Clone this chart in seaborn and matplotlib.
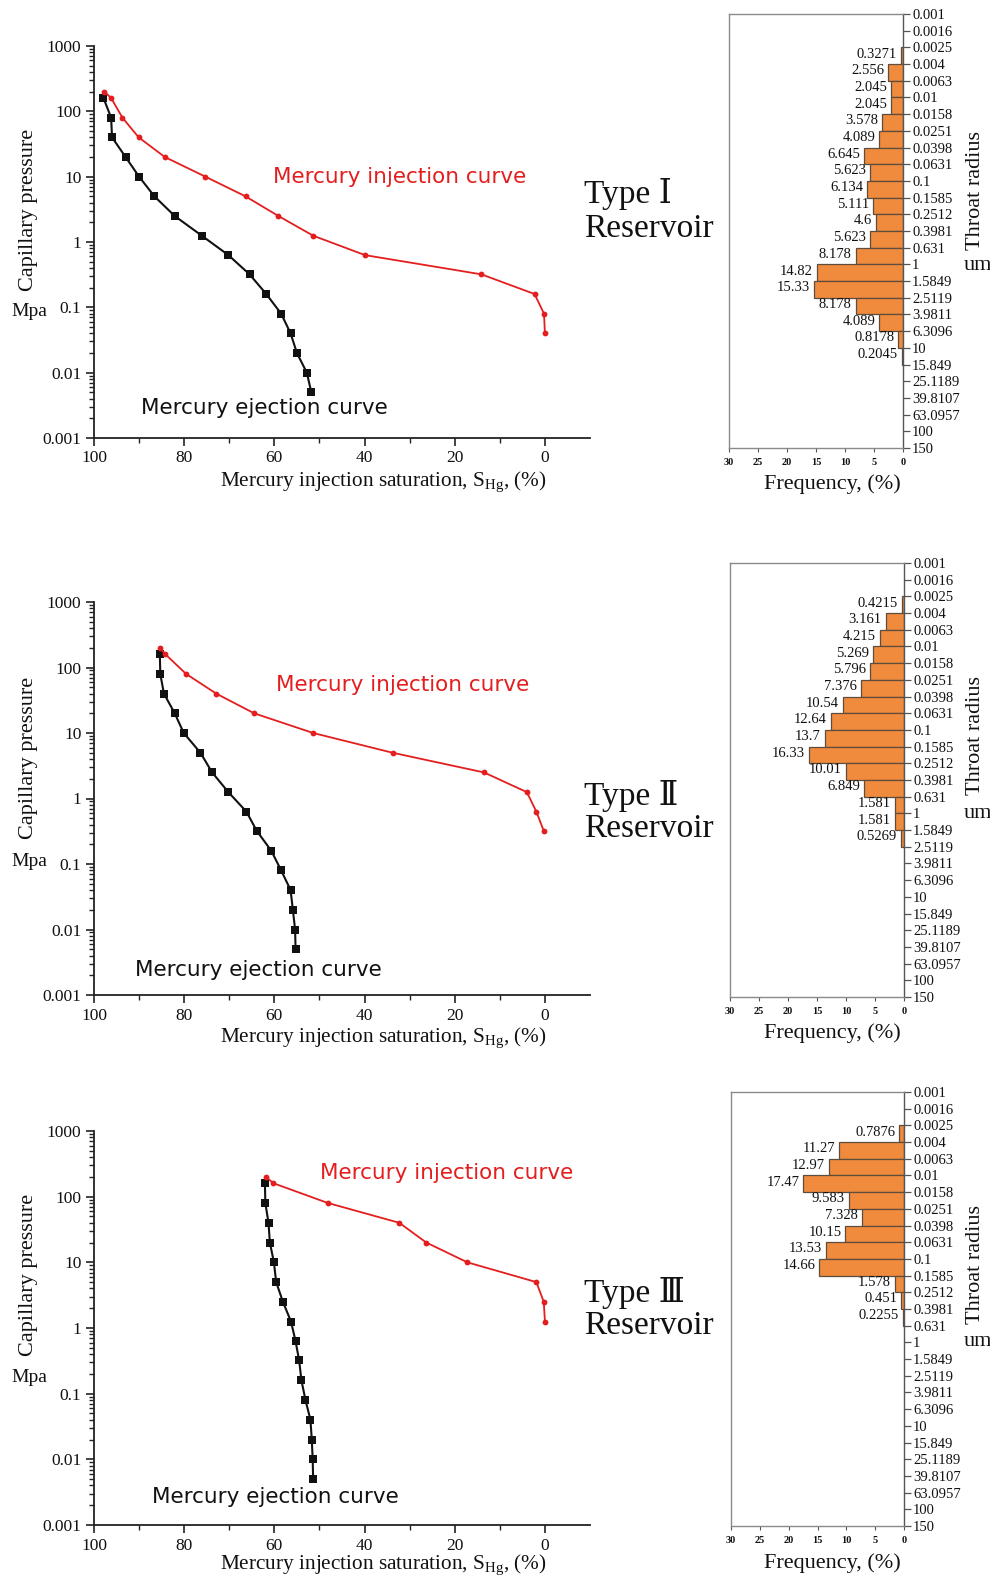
import matplotlib
matplotlib.use("Agg")
import matplotlib.pyplot as plt
import numpy as np
import pandas as pd
import seaborn as sns
from matplotlib.ticker import FixedLocator, FixedFormatter, LogLocator, NullFormatter

sns.set_theme(style="white")
plt.rcParams["font.family"] = ["Liberation Serif", "DejaVu Serif"]
plt.rcParams["mathtext.fontset"] = "custom"
plt.rcParams["mathtext.rm"] = "Liberation Serif"
plt.rcParams["mathtext.it"] = "Liberation Serif:italic"

# ---------------- capillary pressure curves (MPa) ----------------
inj_pressure_1 = [200, 160, 80, 40, 20, 10, 5, 2.5, 1.25, 0.63, 0.32, 0.16, 0.08, 0.04]
inj_saturation_1 = [97.7, 96.2, 93.7, 90.1, 84.3, 75.3, 66.4, 59.1, 51.4, 39.9, 14.1, 2.3, 0.2, 0.0]
ej_pressure_1 = [160, 80, 40, 20, 10, 5, 2.5, 1.25, 0.63, 0.32, 0.16, 0.08, 0.04, 0.02, 0.01, 0.005]
ej_saturation_1 = [97.9, 96.2, 96.0, 93.0, 90.0, 86.6, 82.1, 76.1, 70.2, 65.5, 61.8, 58.5, 56.4, 55.0, 52.8, 51.8]

inj_pressure_2 = [200, 160, 80, 40, 20, 10, 5, 2.5, 1.25, 0.63, 0.32]
inj_saturation_2 = [85.4, 84.2, 79.6, 72.9, 64.5, 51.4, 33.8, 13.5, 4.0, 1.9, 0.25]
ej_pressure_2 = [160, 80, 40, 20, 10, 5, 2.5, 1.25, 0.63, 0.32, 0.16, 0.08, 0.04, 0.02, 0.01, 0.005]
ej_saturation_2 = [85.4, 85.3, 84.5, 82.1, 80.1, 76.4, 73.8, 70.2, 66.2, 63.9, 60.7, 58.5, 56.4, 55.9, 55.4, 55.3]

inj_pressure_3 = [200, 160, 80, 40, 20, 10, 5, 2.5, 1.25]
inj_saturation_3 = [61.9, 60.2, 48.1, 32.3, 26.3, 17.2, 1.9, 0.25, 0.0]
ej_pressure_3 = [160, 80, 40, 20, 10, 5, 2.5, 1.25, 0.63, 0.32, 0.16, 0.08, 0.04, 0.02, 0.01, 0.005]
ej_saturation_3 = [62.1, 62.0, 61.3, 61.0, 60.1, 59.6, 58.1, 56.3, 55.3, 54.5, 54.0, 53.1, 52.0, 51.7, 51.5, 51.4]

# ---------------- throat radius distribution (%) ----------------
radius_bounds = ["0.001", "0.0016", "0.0025", "0.004", "0.0063", "0.01", "0.0158", "0.0251",
                 "0.0398", "0.0631", "0.1", "0.1585", "0.2512", "0.3981", "0.631", "1",
                 "1.5849", "2.5119", "3.9811", "6.3096", "10", "15.849", "25.1189",
                 "39.8107", "63.0957", "100", "150"]
freq_1 = [0.3271, 2.556, 2.045, 2.045, 3.578, 4.089, 6.645, 5.623, 6.134, 5.111, 4.6,
          5.623, 8.178, 14.82, 15.33, 8.178, 4.089, 0.8178, 0.2045]
freq_2 = [0.4215, 3.161, 4.215, 5.269, 5.796, 7.376, 10.54, 12.64, 13.7, 16.33, 10.01,
          6.849, 1.581, 1.581, 0.5269]
freq_3 = [0.7876, 11.27, 12.97, 17.47, 9.583, 7.328, 10.15, 13.53, 14.66, 1.578, 0.451, 0.2255]
freq_first_bin = 2          # every distribution starts at the 0.0025 um bound
freq_ticks = [30, 25, 20, 15, 10, 5, 0]

pressure_ticks = [0.001, 0.01, 0.1, 1, 10, 100, 1000]
pressure_labels = ["0.001", "0.01", "0.1", "1", "10", "100", "1000"]
saturation_ticks = [100, 80, 60, 40, 20, 0]
type_names = ["Type \u2160", "Type \u2161", "Type \u2162"]

RED = "#E41E1E"
BAR = "#F08A3C"
W, H = 990, 1579

fig = plt.figure(figsize=(W / 100, H / 100), dpi=100)


def box(left, top, right, bottom):
    return [left / W, 1 - bottom / H, (right - left) / W, (bottom - top) / H]


def ftext(x, y, s, **kw):
    fig.text(x / W, 1 - y / H, s, **kw)


curve_boxes = [(94, 46, 590, 438), (94, 602, 590, 995), (94, 1131, 590, 1525)]
hist_boxes = [(729, 14, 903, 448), (730, 563, 904, 997), (731, 1092, 904, 1526)]

curves = [
    (inj_saturation_1, inj_pressure_1, ej_saturation_1, ej_pressure_1),
    (inj_saturation_2, inj_pressure_2, ej_saturation_2, ej_pressure_2),
    (inj_saturation_3, inj_pressure_3, ej_saturation_3, ej_pressure_3),
]
freqs = [freq_1, freq_2, freq_3]

# text anchors (figure pixels) for each panel row
inj_label_xy = [(273, 177), (276, 685), (320, 1173)]
ej_label_xy = [(141, 408), (135, 970), (152, 1497)]
ylabel_y = [210, 758, 1275]
mpa_y = [312, 861, 1378]
xlabel_y = [482, 1038, 1565]
type_y = [(194, 229), (796, 829), (1293, 1326)]
freq_label_y = [484, 1033, 1563]
throat_y = [190, 736, 1265]
um_y = [265, 814, 1342]

for k in range(3):
    # ---- capillary pressure curve ----
    ax = fig.add_axes(box(*curve_boxes[k]))
    s_inj, p_inj, s_ej, p_ej = curves[k]
    df_inj = pd.DataFrame({"sat": s_inj, "pc": p_inj})
    df_ej = pd.DataFrame({"sat": s_ej, "pc": p_ej})
    sns.lineplot(data=df_ej, x="sat", y="pc", sort=False, estimator=None, ax=ax,
                 color="#111111", lw=1.5, marker="s", markersize=5.2,
                 markeredgewidth=0, markerfacecolor="#111111")
    sns.lineplot(data=df_inj, x="sat", y="pc", sort=False, estimator=None, ax=ax,
                 color=RED, lw=1.3, marker="o", markersize=4.2,
                 markeredgewidth=0, markerfacecolor=RED)
    ax.set_yscale("log")
    ax.set_ylim(0.001, 1000)
    ax.set_xlim(100, -10)
    ax.yaxis.set_major_locator(FixedLocator(pressure_ticks))
    ax.yaxis.set_major_formatter(FixedFormatter(pressure_labels))
    ax.yaxis.set_minor_locator(LogLocator(base=10, subs=np.arange(2, 10)))
    ax.yaxis.set_minor_formatter(NullFormatter())
    ax.xaxis.set_major_locator(FixedLocator(saturation_ticks))
    ax.xaxis.set_minor_locator(FixedLocator([90, 70, 50, 30, 10]))
    ax.set_xlabel("")
    ax.set_ylabel("")
    for side in ("top", "right"):
        ax.spines[side].set_visible(False)
    for side in ("left", "bottom"):
        ax.spines[side].set_color("#222222")
        ax.spines[side].set_linewidth(1.3)
    ax.tick_params(axis="both", which="major", direction="out", length=6, width=1.2,
                   color="#222222", labelsize=12.5, labelcolor="#111111", pad=3,
                   left=True, bottom=True)
    ax.tick_params(axis="both", which="minor", direction="out", length=3.5, width=1.0,
                   color="#222222", left=True, bottom=True)
    ax.patch.set_alpha(0)

    ftext(*inj_label_xy[k], "Mercury injection curve", color=RED, fontsize=15.5,
          family="DejaVu Sans", ha="left", va="center")
    ftext(*ej_label_xy[k], "Mercury ejection curve", color="#111111", fontsize=15.5,
          family="DejaVu Sans", ha="left", va="center")
    ftext(29, ylabel_y[k], "Capillary pressure", rotation=90, fontsize=16,
          ha="center", va="center", color="#111111")
    ftext(29, mpa_y[k], "Mpa", fontsize=14, ha="center", va="center", color="#111111")
    ftext(383, xlabel_y[k], r"Mercury injection saturation, S$_{\rm Hg}$, (%)",
          fontsize=15.3, ha="center", va="center", color="#111111")
    ftext(584, type_y[k][0], type_names[k], fontsize=24, ha="left", va="center",
          color="#111111")
    ftext(584, type_y[k][1], "Reservoir", fontsize=24, ha="left", va="center",
          color="#111111")

    # ---- throat radius histogram ----
    hx = fig.add_axes(box(*hist_boxes[k]))
    f = freqs[k]
    pos = [freq_first_bin + i + 0.5 for i in range(len(f))]
    df_h = pd.DataFrame({"freq": f, "pos": pos})
    sns.barplot(data=df_h, x="freq", y="pos", orient="h", native_scale=True, width=1,
                color=BAR, saturation=1, edgecolor="#5e4c3c", linewidth=0.9,
                errorbar=None, ax=hx)
    for v, p in zip(f, pos):
        hx.text(v + 0.7, p - 0.1, f"{v:g}", ha="right", va="center", fontsize=10.5,
                color="#111111")
    hx.set_xlim(30, 0)
    hx.set_ylim(len(radius_bounds) - 1, 0)
    hx.yaxis.tick_right()
    hx.yaxis.set_major_locator(FixedLocator(list(range(len(radius_bounds)))))
    hx.yaxis.set_major_formatter(FixedFormatter(radius_bounds))
    hx.xaxis.set_major_locator(FixedLocator(freq_ticks))
    hx.xaxis.set_major_formatter(FixedFormatter([str(t) for t in freq_ticks]))
    hx.set_xlabel("")
    hx.set_ylabel("")
    for side in hx.spines:
        hx.spines[side].set_visible(True)
        hx.spines[side].set_color("#8a8a8a")
        hx.spines[side].set_linewidth(1.0)
    hx.spines["right"].set_color("#555555")
    hx.tick_params(axis="y", which="major", direction="out", length=5, width=0.9,
                   color="#555555", labelsize=10.5, labelcolor="#111111", pad=1.5,
                   right=True, left=False, labelright=True, labelleft=False)
    hx.tick_params(axis="x", which="major", direction="out", length=3, width=0.8,
                   color="#555555", labelsize=7.5, labelcolor="#111111", pad=4,
                   bottom=True)
    for lab in hx.get_xticklabels():
        lab.set_fontweight("bold")
    hx.grid(False)

    ftext(832, freq_label_y[k], "Frequency, (%)", fontsize=16, ha="center",
          va="center", color="#111111")
    ftext(975, throat_y[k], "Throat radius", rotation=90, fontsize=16, ha="center",
          va="center", color="#111111")
    ftext(978, um_y[k], "um", fontsize=16, ha="center", va="center", color="#111111")

fig.savefig("out.png", dpi=100)
